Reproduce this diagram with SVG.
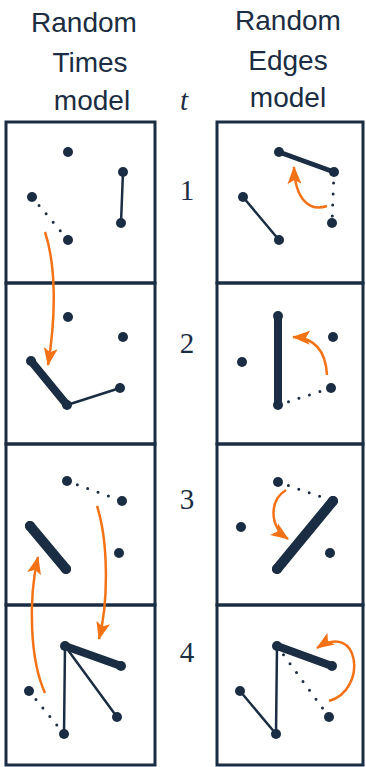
<svg xmlns="http://www.w3.org/2000/svg" width="366" height="767" viewBox="0 0 366 767">
<defs>
<marker id="ah" viewBox="0 0 18 14" refX="17" refY="7" markerWidth="18" markerHeight="14" markerUnits="userSpaceOnUse" orient="auto">
<path d="M0,0 L18,7 L0,14 L4,7 z" fill="#f47216"/>
</marker>
<style>
.box{fill:none;stroke:#1b2d42;stroke-width:3}
.n{fill:#1b2d42}
.e{stroke:#1b2d42;stroke-width:2.5;stroke-linecap:round;fill:none}
.w5{stroke-width:5}
.w8{stroke-width:8}
.w10{stroke-width:10}
.d{stroke:#1b2d42;stroke-width:3;stroke-linecap:round;stroke-dasharray:0 11;fill:none}
.a{stroke:#f47216;stroke-width:2.5;fill:none;marker-end:url(#ah)}
.title{font-family:"Liberation Sans",Arial,sans-serif;font-size:28px;fill:#1b2d42;text-anchor:middle}
.num{font-family:"Liberation Serif","Times New Roman",serif;font-size:29px;fill:#1b2d42;text-anchor:middle}
</style>
</defs>
<g id="titles">
<text class="title" x="84" y="32">Random</text>
<text class="title" x="90" y="72">Times</text>
<text class="title" x="92" y="110">model</text>
<text class="title" x="288" y="30">Random</text>
<text class="title" x="288" y="70">Edges</text>
<text class="title" x="288" y="107">model</text>
<text class="num" x="184" y="110" font-style="italic" font-size="27">t</text>
<text class="num" x="187" y="200">1</text>
<text class="num" x="187" y="353">2</text>
<text class="num" x="187" y="509">3</text>
<text class="num" x="187" y="662">4</text>
</g>
<g id="L1">
<rect class="box" x="6" y="122" width="149" height="161"/>
<line class="e" x1="123" y1="172" x2="121" y2="223"/>
<line class="d" x1="32" y1="197" x2="68" y2="240"/>
<circle class="n" cx="68" cy="152" r="5"/><circle class="n" cx="123" cy="172" r="5"/><circle class="n" cx="32" cy="197" r="5"/><circle class="n" cx="121" cy="223" r="5"/><circle class="n" cx="68" cy="240" r="5"/>
</g>
<g id="L2">
<rect class="box" x="6" y="283" width="149" height="161"/>
<line class="e w8" x1="31" y1="361" x2="67" y2="405"/>
<line class="e" x1="67" y1="405" x2="120" y2="388"/>
<circle class="n" cx="68" cy="317" r="5"/><circle class="n" cx="123" cy="337" r="5"/><circle class="n" cx="31" cy="361" r="5"/><circle class="n" cx="120" cy="388" r="5"/><circle class="n" cx="67" cy="405" r="5"/>
</g>
<g id="L3">
<rect class="box" x="6" y="444" width="149" height="161"/>
<line class="e w10" x1="30" y1="526" x2="66" y2="569"/>
<line class="d" x1="67" y1="481" x2="122" y2="501"/>
<circle class="n" cx="67" cy="481" r="5"/><circle class="n" cx="122" cy="501" r="5"/><circle class="n" cx="30" cy="526" r="5"/><circle class="n" cx="119" cy="553" r="5"/><circle class="n" cx="66" cy="569" r="5"/>
</g>
<g id="L4">
<rect class="box" x="6" y="605" width="149" height="160"/>
<line class="e w8" x1="65" y1="646" x2="121" y2="666"/>
<line class="e" x1="65" y1="646" x2="117" y2="717"/>
<line class="e" x1="65" y1="646" x2="64" y2="734"/>
<line class="d" x1="29" y1="691" x2="64" y2="734"/>
<circle class="n" cx="65" cy="646" r="5"/><circle class="n" cx="121" cy="666" r="5"/><circle class="n" cx="29" cy="691" r="5"/><circle class="n" cx="117" cy="717" r="5"/><circle class="n" cx="64" cy="734" r="5"/>
</g>
<g id="R1">
<rect class="box" x="217" y="122" width="146" height="161"/>
<line class="e w5" x1="279" y1="152" x2="334" y2="172"/>
<line class="e" x1="243" y1="197" x2="279" y2="240"/>
<line class="d" x1="334" y1="172" x2="332" y2="223"/>
<circle class="n" cx="279" cy="152" r="5"/><circle class="n" cx="334" cy="172" r="5"/><circle class="n" cx="243" cy="197" r="5"/><circle class="n" cx="332" cy="223" r="5"/><circle class="n" cx="279" cy="240" r="5"/>
</g>
<g id="R2">
<rect class="box" x="217" y="283" width="146" height="161"/>
<line class="e w8" x1="278" y1="316" x2="278" y2="405"/>
<line class="d" x1="278" y1="405" x2="331" y2="388"/>
<circle class="n" cx="278" cy="316" r="5"/><circle class="n" cx="333" cy="337" r="5"/><circle class="n" cx="242" cy="362" r="5"/><circle class="n" cx="331" cy="388" r="5"/><circle class="n" cx="278" cy="405" r="5"/>
</g>
<g id="R3">
<rect class="box" x="217" y="444" width="146" height="161"/>
<line class="e w10" x1="333" y1="501" x2="277" y2="569"/>
<line class="d" x1="278" y1="482" x2="333" y2="501"/>
<circle class="n" cx="278" cy="482" r="5"/><circle class="n" cx="333" cy="501" r="5"/><circle class="n" cx="241" cy="527" r="5"/><circle class="n" cx="330" cy="553" r="5"/><circle class="n" cx="277" cy="569" r="5"/>
</g>
<g id="R4">
<rect class="box" x="217" y="605" width="146" height="160"/>
<line class="e w8" x1="277" y1="646" x2="332" y2="666"/>
<line class="e" x1="240" y1="691" x2="276" y2="734"/>
<line class="e" x1="277" y1="646" x2="276" y2="734"/>
<line class="d" x1="277" y1="646" x2="329" y2="717"/>
<circle class="n" cx="277" cy="646" r="5"/><circle class="n" cx="332" cy="666" r="5"/><circle class="n" cx="240" cy="691" r="5"/><circle class="n" cx="329" cy="717" r="5"/><circle class="n" cx="276" cy="734" r="5"/>
</g>
<g id="connectors">
<path class="a" d="M45,232 C55,262 57,310 48,365"/>
<path class="a" d="M97,506 C108,540 109,600 99,639"/>
<path class="a" d="M45,693 C30,660 28,600 38,557"/>
<path class="a" d="M327,206 C310,212 295,200 294,167"/>
<path class="a" d="M327,375 C326,355 318,338 293,337"/>
<path class="a" d="M286,490 C270,500 268,525 288,539"/>
<path class="a" d="M329,701 C368,690 360,620 317,648"/>
</g>
</svg>
